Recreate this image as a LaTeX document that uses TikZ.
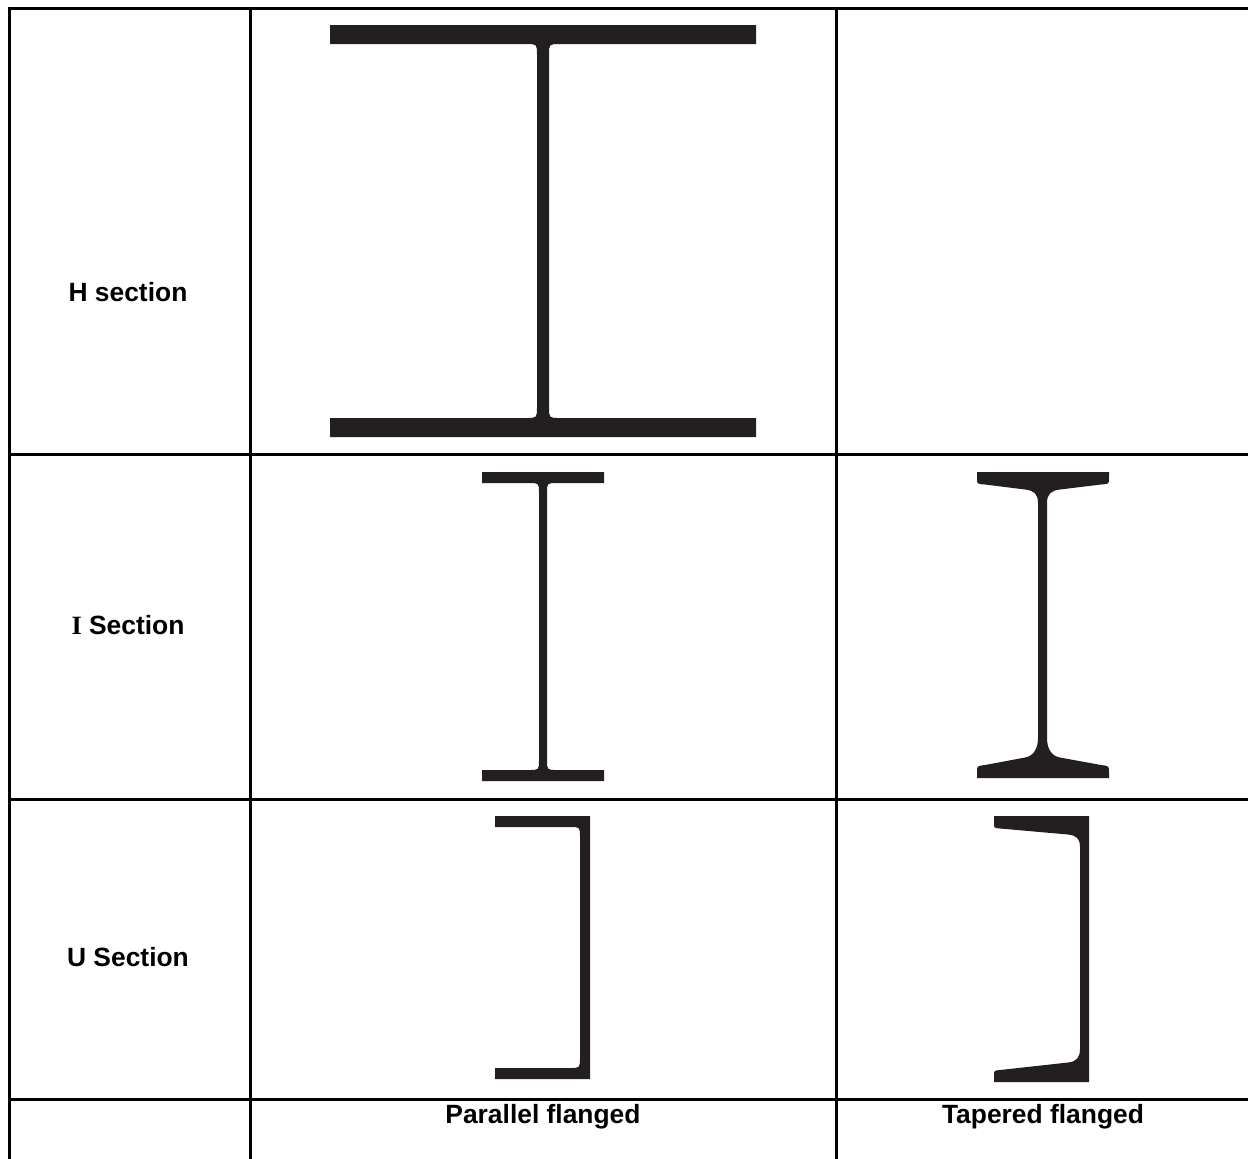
\documentclass[tikz,border=0pt]{standalone}
\usepackage{fontspec}
\setmainfont{Liberation Sans}
\newfontfamily\serifbold{Liberation Serif}
\definecolor{steel}{HTML}{231F20}

\begin{document}
\begin{tikzpicture}[x=0.5pt, y=-0.5pt,
    grid/.style={line width=1.5pt, line cap=rect},
    section/.style={fill=steel, draw=none},
    label/.style={font=\fontsize{13.2}{16}\selectfont\bfseries, inner sep=0pt}]
            \useasboundingbox (0,0) rectangle (1248,1158);
            % table grid
            \draw[grid] (9,8) -- (1248,8);
            \draw[grid] (9,454) -- (1248,454);
            \draw[grid] (9,799) -- (1248,799);
            \draw[grid] (9,1099) -- (1248,1099);
            \draw[grid] (9,8) -- (9,1158);
            \draw[grid] (250,8) -- (250,1158);
            \draw[grid] (836,8) -- (836,1158);
            % row and column labels
            \node[label] (hsec) at (128,292) {H section};
            \node[label] (isec) at (128,625) {{\serifbold I} Section};
            \node[label] (usec) at (128,957) {U Section};
            \node[label] (parallel) at (543,1117) {Parallel flanged};
            \node[label] (tapered) at (1043,1117) {Tapered flanged};
            % H section, parallel flanged
            \fill[section] (330,25) -- (756,25) -- (756,44) -- (560,44)
                .. controls (549,44) .. (549,55) -- (549,407)
                .. controls (549,418) .. (560,418) -- (756,418) -- (756,437)
                -- (330,437) -- (330,418) -- (526,418)
                .. controls (537,418) .. (537,407) -- (537,55)
                .. controls (537,44) .. (526,44) -- (330,44) -- cycle;
            % I section, parallel flanged
            \fill[section] (482,472) -- (604,472) -- (604,483) -- (557,483)
                .. controls (547,483) .. (547,493) -- (547,760)
                .. controls (547,770) .. (557,770) -- (604,770) -- (604,781)
                -- (482,781) -- (482,770) -- (529,770)
                .. controls (539,770) .. (539,760) -- (539,493)
                .. controls (539,483) .. (529,483) -- (482,483) -- cycle;
            % I section, tapered flanged
            \fill[section] (977,472) -- (1109,472) -- (1109,478)
                .. controls (1109,484) .. (1101,484.5) -- (1060,489.5)
                .. controls (1051,490.5) and (1047,494) .. (1047,503) -- (1047,738)
                .. controls (1047,748) and (1051,756) .. (1060,757.5) -- (1101,765)
                .. controls (1109,766) .. (1109,772) -- (1109,778)
                -- (977,778) -- (977,772)
                .. controls (977,766) .. (985,765) -- (1025,757.5)
                .. controls (1034,756) and (1038,748) .. (1038,738) -- (1038,503)
                .. controls (1038,494) and (1034,490.5) .. (1025,489.5) -- (985,484.5)
                .. controls (977,484) .. (977,478) -- cycle;
            % U section, parallel flanged
            \fill[section] (495,816) -- (590,816) -- (590,1079) -- (495,1079)
                -- (495,1068) -- (570,1068)
                .. controls (580,1068) .. (580,1058) -- (580,837)
                .. controls (580,827) .. (570,827) -- (495,827) -- cycle;
            % U section, tapered flanged
            \fill[section] (994,816) -- (1089,816) -- (1089,1082) -- (994,1082)
                -- (994,1076)
                .. controls (994,1070.5) .. (1000,1070) -- (1068,1062.5)
                .. controls (1077,1061.5) and (1080,1057) .. (1080,1049) -- (1080,847)
                .. controls (1080,839) and (1077,835.5) .. (1068,834.5) -- (1000,828.5)
                .. controls (994,828) .. (994,823) -- cycle;
        \end{tikzpicture}
\end{document}
